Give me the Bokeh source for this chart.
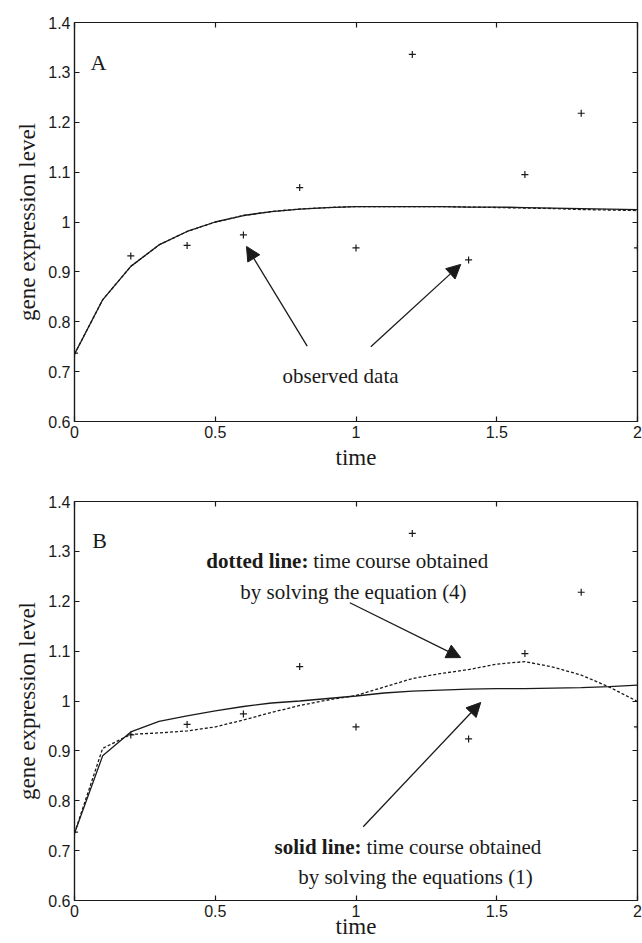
from bokeh.plotting import figure
from bokeh.models import (Range1d, FixedTicker, LinearAxis, Label, Arrow, NormalHead,
                          ColumnDataSource, CustomLabelingPolicy)
from bokeh.layouts import column
from bokeh.embed import file_html
from bokeh.resources import INLINE

# ---------------- data ----------------
obs_time = [0.0, 0.2, 0.4, 0.6, 0.8, 1.0, 1.2, 1.4, 1.6, 1.8, 2.0]
obs_level = [0.737, 0.932, 0.953, 0.974, 1.069, 0.948, 1.336, 0.924, 1.095, 1.218, 0.948]

model_time = [0.0, 0.1, 0.2, 0.3, 0.4, 0.5, 0.6, 0.7, 0.8, 0.9, 1.0,
              1.1, 1.2, 1.3, 1.4, 1.5, 1.6, 1.7, 1.8, 1.9, 2.0]
a_solid = [0.735, 0.844, 0.911, 0.954, 0.981, 1.000, 1.013, 1.021, 1.026, 1.029, 1.031,
           1.031, 1.031, 1.031, 1.030, 1.030, 1.029, 1.028, 1.027, 1.026, 1.025]
a_dotted = [0.735, 0.844, 0.911, 0.954, 0.981, 1.000, 1.013, 1.021, 1.026, 1.029, 1.031,
            1.031, 1.031, 1.031, 1.030, 1.029, 1.028, 1.027, 1.025, 1.024, 1.023]
b_solid = [0.735, 0.890, 0.938, 0.959, 0.970, 0.980, 0.989, 0.996, 1.000, 1.005, 1.010,
           1.016, 1.020, 1.022, 1.024, 1.025, 1.025, 1.026, 1.027, 1.029, 1.032]
b_dotted = [0.735, 0.905, 0.933, 0.936, 0.940, 0.948, 0.962, 0.977, 0.991, 1.002, 1.011,
            1.028, 1.045, 1.055, 1.063, 1.074, 1.079, 1.068, 1.052, 1.028, 0.999]

x_ticks = [0, 0.5, 1, 1.5, 2]
x_tick_labels = ["0", "0.5", "1", "1.5", "2"]
y_ticks = [0.6, 0.7, 0.8, 0.9, 1.0, 1.1, 1.2, 1.3, 1.4]
y_tick_labels = ["0.6", "0.7", "0.8", "0.9", "1", "1.1", "1.2", "1.3", "1.4"]

# arrows: (x_start, y_start, x_end, y_end) in data units
arrows_a = [(0.8266, 0.751, 0.611, 0.951), (1.0526, 0.750, 1.372, 0.915)]
arrows_b = [(0.978, 1.197, 1.372, 1.087), (1.0256, 0.748, 1.443, 0.997)]

INK = "#1a1a1a"
SERIF = "Liberation Serif"
SANS = "Liberation Sans"


def style_axis(ax, ticks, labels, show_labels=True):
    ax.ticker = FixedTicker(ticks=ticks)
    ax.major_tick_in = 5
    ax.major_tick_out = 0
    ax.minor_tick_in = 0
    ax.minor_tick_out = 0
    ax.axis_line_color = INK
    ax.axis_line_width = 1.2
    ax.major_tick_line_color = INK
    ax.major_tick_line_width = 1.2
    if show_labels:
        ax.major_label_overrides = {t: l for t, l in zip(ticks, labels)}
        ax.major_label_text_font = SANS
        ax.major_label_text_font_size = "16px"
        ax.major_label_text_color = INK
        ax.major_label_standoff = 4
    else:
        ax.major_label_policy = CustomLabelingPolicy(code="return []")
        ax.major_label_text_font_size = "1px"
        ax.major_label_standoff = 0


def make_fig(height, top, bottom, xlabel_standoff):
    p = figure(width=642, height=height, x_range=Range1d(0, 2), y_range=Range1d(0.6, 1.4),
               output_backend="svg", toolbar_location=None,
               min_border_left=74, min_border_right=5,
               min_border_top=top, min_border_bottom=bottom)
    p.grid.visible = False
    p.outline_line_color = INK
    p.outline_line_width = 1.2
    p.background_fill_color = "white"
    p.border_fill_color = "white"
    style_axis(p.xaxis[0], x_ticks, x_tick_labels)
    style_axis(p.yaxis[0], y_ticks, y_tick_labels)
    p.xaxis[0].axis_label = "time"
    p.xaxis[0].axis_label_text_font = SERIF
    p.xaxis[0].axis_label_text_font_size = "23px"
    p.xaxis[0].axis_label_text_font_style = "normal"
    p.xaxis[0].axis_label_text_color = INK
    p.xaxis[0].axis_label_standoff = xlabel_standoff
    p.yaxis[0].axis_label = "gene expression level"
    p.yaxis[0].axis_label_text_font = SERIF
    p.yaxis[0].axis_label_text_font_size = "23px"
    p.yaxis[0].axis_label_text_font_style = "normal"
    p.yaxis[0].axis_label_text_color = INK
    p.yaxis[0].axis_label_standoff = 5
    top_ax = LinearAxis()
    style_axis(top_ax, x_ticks, x_tick_labels, show_labels=False)
    p.add_layout(top_ax, "above")
    right_ax = LinearAxis()
    style_axis(right_ax, y_ticks, y_tick_labels, show_labels=False)
    p.add_layout(right_ax, "right")
    return p


def add_text(p, x, y, text, align="left", bold=False, size="21px"):
    p.add_layout(Label(x=x, y=y, text=text, text_font=SERIF, text_font_size=size,
                       text_font_style="bold" if bold else "normal", text_color=INK,
                       text_align=align, text_baseline="alphabetic"))


def add_arrow(p, a):
    p.add_layout(Arrow(end=NormalHead(size=14, fill_color=INK, line_color=INK, line_width=1),
                       x_start=a[0], y_start=a[1], x_end=a[2], y_end=a[3],
                       line_color=INK, line_width=1.3))


obs_src = ColumnDataSource(dict(t=obs_time, v=obs_level))

# ---------------- panel A ----------------
pa = make_fig(478, 22, 57, 4)
pa.line(model_time, a_dotted, line_color=INK, line_width=1.3, line_dash="3 2")
pa.line(model_time, a_solid, line_color=INK, line_width=1.3)
pa.scatter("t", "v", source=obs_src, marker="cross", size=7, line_color=INK, line_width=1.2)
add_text(pa, 0.057, 1.3198, "A", size="22px")
add_text(pa, 0.945, 0.6922, "observed data", align="center")
for a in arrows_a:
    add_arrow(pa, a)

# ---------------- panel B ----------------
pb = make_fig(465, 23, 43, -6)
pb.line(model_time, b_dotted, line_color=INK, line_width=1.3, line_dash="3 2")
pb.line(model_time, b_solid, line_color=INK, line_width=1.3)
pb.scatter("t", "v", source=obs_src, marker="cross", size=7, line_color=INK, line_width=1.2)
add_text(pb, 0.063, 1.3218, "B", size="22px")
add_text(pb, 0.831, 1.2803, "dotted line:", align="right", bold=True)
add_text(pb, 0.848, 1.2803, "time course obtained", align="left")
add_text(pb, 0.991, 1.2182, "by solving the equation (4)", align="center")
add_text(pb, 1.0195, 0.7069, "solid line:", align="right", bold=True)
add_text(pb, 1.037, 0.7069, "time course obtained", align="left")
add_text(pb, 1.211, 0.6467, "by solving the equations (1)", align="center")
for a in arrows_b:
    add_arrow(pb, a)

layout = column(pa, pb, spacing=0)
open("out.html", "w").write(file_html(layout, INLINE))
